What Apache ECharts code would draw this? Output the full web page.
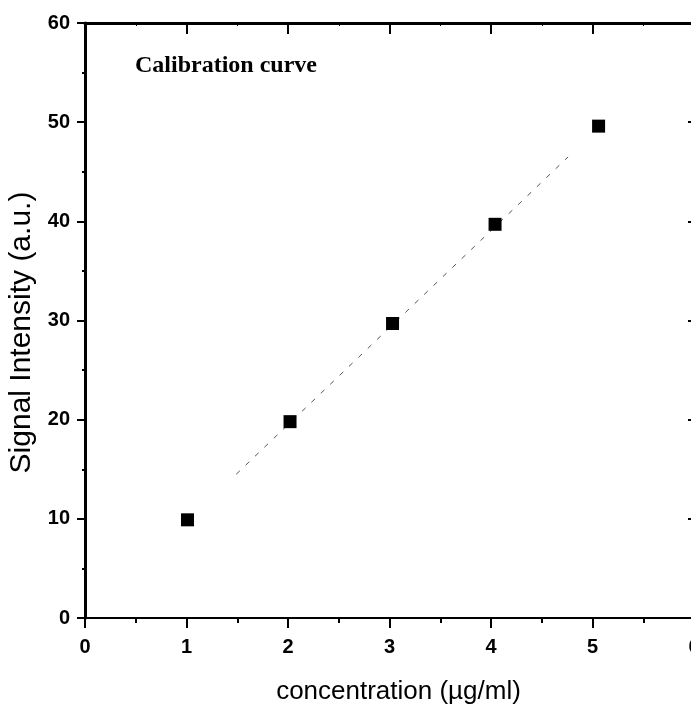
<!DOCTYPE html>
<html>
<head>
<meta charset="utf-8">
<script src="https://cdn.jsdelivr.net/npm/echarts@6/dist/echarts.min.js"></script>
<style>
  html, body { margin: 0; padding: 0; background: #fff; }
  #chart { width: 691px; height: 711px; }
</style>
</head>
<body>
<div id="chart"></div>
<script>
// Data
const concentration = [1.01, 2.02, 3.03, 4.04, 5.06];
const signal = [9.9, 19.8, 29.7, 39.7, 49.6];
const fitX = [1.49, 4.76];
const fitY = [14.5, 46.5];
const xTicks = [0, 1, 2, 3, 4, 5, 6];
const yTicks = [0, 10, 20, 30, 40, 50, 60];
const titleText = 'Calibration curve';
const xName = 'concentration (\u00b5g/ml)';
const yName = 'Signal Intensity (a.u.)';

const chart = echarts.init(document.getElementById('chart'), null, { renderer: 'canvas' });

const tickFont = { fontFamily: 'Liberation Sans', fontSize: 20, fontWeight: 'bold', color: '#000' };

const option = {
  backgroundColor: '#fff',
  animation: false,
  title: {
    text: titleText,
    left: 135,
    top: 54,
    padding: 0,
    textStyle: { fontFamily: 'Liberation Serif', fontSize: 24, fontWeight: 'bold', color: '#000' }
  },
  grid: { left: 85, right: -3, top: 23, bottom: 93, containLabel: false, outerBoundsMode: 'none' },
  xAxis: [
    {
      type: 'value', position: 'bottom',
      min: xTicks[0], max: xTicks[xTicks.length - 1], interval: 1,
      name: xName, nameLocation: 'middle', nameGap: 61,
      nameTextStyle: { fontFamily: 'Liberation Sans', fontSize: 26, color: '#000', padding: [0, 0, 0, 18] },
      axisLine: { show: true, onZero: false, lineStyle: { color: '#000', width: 2 } },
      axisTick: { show: true, inside: false, length: 10, lineStyle: { color: '#000', width: 2 } },
      minorTick: { show: true, splitNumber: 2, length: 5, lineStyle: { color: '#000', width: 2 } },
      axisLabel: Object.assign({ margin: 19, formatter: v => String(v) }, tickFont),
      splitLine: { show: false }
    },
    {
      type: 'value', position: 'top',
      min: xTicks[0], max: xTicks[xTicks.length - 1], interval: 1,
      axisLine: { show: true, onZero: false, lineStyle: { color: '#000', width: 3 } },
      axisTick: { show: true, inside: true, length: 11, lineStyle: { color: '#000', width: 2 } },
      minorTick: { show: true, splitNumber: 2, length: 3, lineStyle: { color: '#000', width: 1 } },
      axisLabel: { show: false },
      splitLine: { show: false }
    }
  ],
  yAxis: [
    {
      type: 'value', position: 'left',
      min: yTicks[0], max: yTicks[yTicks.length - 1], interval: 10,
      name: yName, nameLocation: 'middle', nameGap: 46, nameRotate: 90,
      nameTextStyle: { fontFamily: 'Liberation Sans', fontSize: 30, color: '#000', padding: [0, 24, 0, 0] },
      axisLine: { show: true, onZero: false, lineStyle: { color: '#000', width: 3 } },
      axisTick: { show: true, inside: false, length: 8, lineStyle: { color: '#000', width: 2 } },
      minorTick: { show: true, splitNumber: 2, length: 3, lineStyle: { color: '#000', width: 2 } },
      axisLabel: Object.assign({ margin: 15 }, tickFont),
      splitLine: { show: false }
    },
    {
      type: 'value', position: 'right',
      min: yTicks[0], max: yTicks[yTicks.length - 1], interval: 10,
      axisLine: { show: true, onZero: false, lineStyle: { color: '#000', width: 2 } },
      axisTick: { show: true, inside: true, length: 6, lineStyle: { color: '#000', width: 2 } },
      axisLabel: { show: false },
      splitLine: { show: false }
    }
  ],
  series: [
    {
      type: 'line',
      xAxisIndex: 0, yAxisIndex: 0,
      data: fitX.map((x, i) => [x, fitY[i]]),
      showSymbol: false,
      symbol: 'none',
      lineStyle: { color: '#555', width: 1, type: [5, 8] },
      z: 1
    },
    {
      type: 'scatter',
      xAxisIndex: 0, yAxisIndex: 0,
      data: concentration.map((x, i) => [x, signal[i]]),
      symbol: 'rect',
      symbolSize: 13,
      itemStyle: { color: '#000', opacity: 1 },
      z: 3
    }
  ]
};

chart.setOption(option);
</script>
</body>
</html>
